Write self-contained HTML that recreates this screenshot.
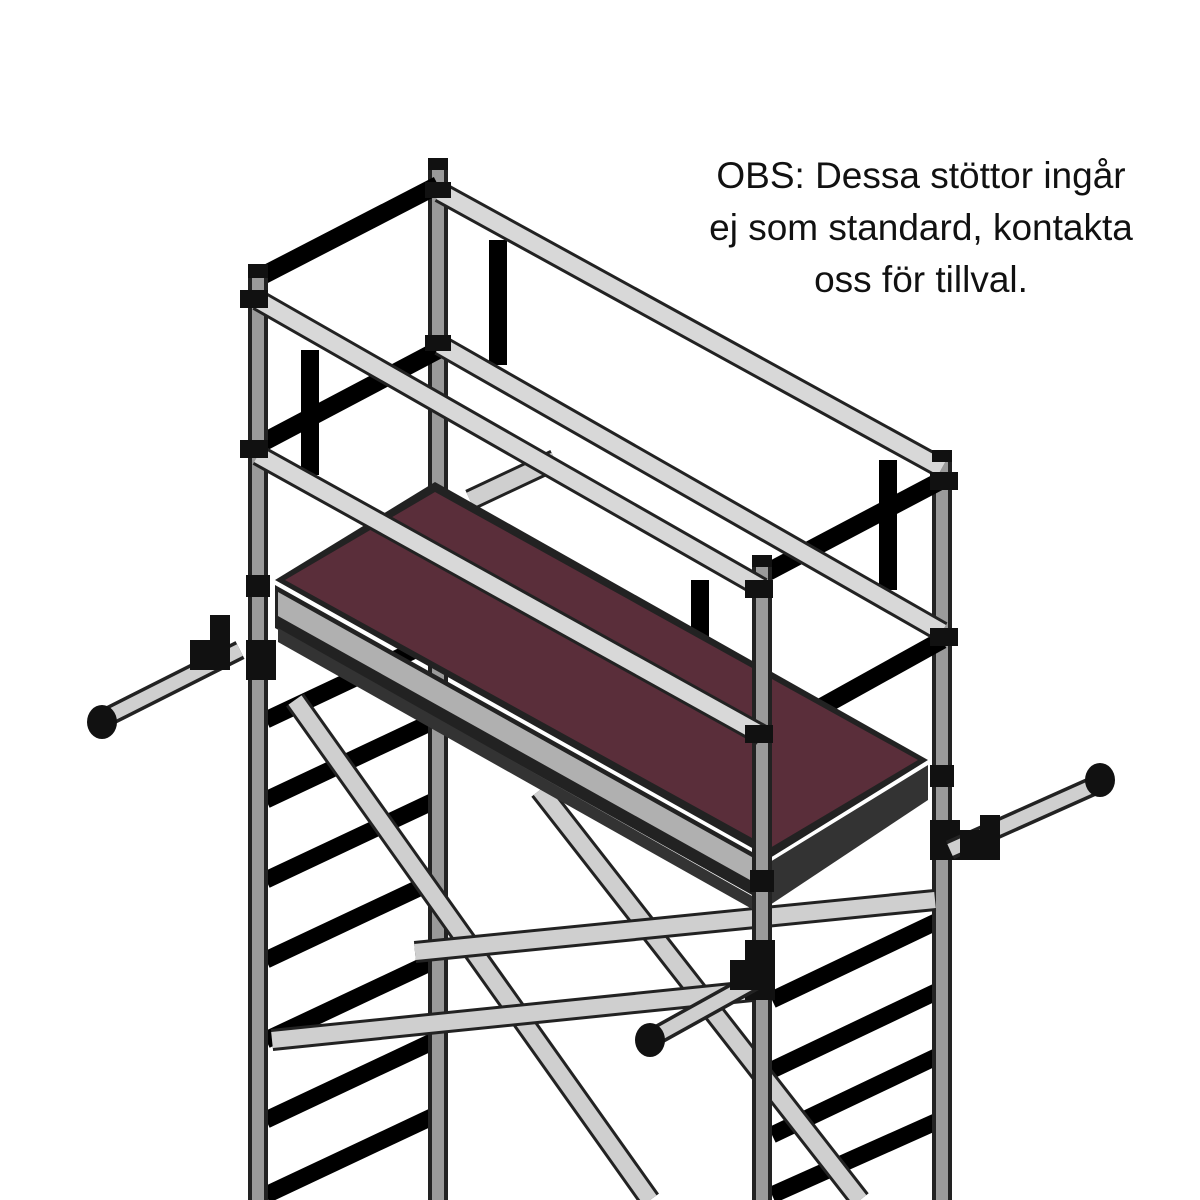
<!DOCTYPE html>
<html><head><meta charset="utf-8"><style>
html,body{margin:0;padding:0;background:#fff;width:1200px;height:1200px;overflow:hidden}
.t{position:absolute;left:680px;top:150px;width:482px;text-align:center;font-family:"Liberation Sans",sans-serif;font-size:37px;line-height:52px;color:#111}
</style></head><body>
<svg width="1200" height="1200" style="position:absolute;left:0;top:0">
<g stroke-linecap="butt">
<g stroke="#000" stroke-width="17">
<line x1="266" y1="720" x2="436" y2="640"/>
<line x1="266" y1="800" x2="436" y2="720"/>
<line x1="266" y1="880" x2="436" y2="800"/>
<line x1="266" y1="960" x2="436" y2="880"/>
<line x1="266" y1="1040" x2="436" y2="960"/>
<line x1="266" y1="1120" x2="436" y2="1040"/>
<line x1="266" y1="1195" x2="436" y2="1115"/>
<line x1="772" y1="1000" x2="940" y2="920"/>
<line x1="772" y1="1070" x2="940" y2="990"/>
<line x1="772" y1="1135" x2="940" y2="1055"/>
<line x1="772" y1="1195" x2="940" y2="1120"/>
</g>
<g stroke="#222" stroke-width="20"><line x1="438" y1="165" x2="438" y2="1200"/><line x1="942" y1="455" x2="942" y2="1200"/></g>
<g stroke="#9a9a9a" stroke-width="12"><line x1="438" y1="165" x2="438" y2="1200"/><line x1="942" y1="455" x2="942" y2="1200"/></g>
<g stroke="#000" stroke-width="18">
<line x1="258" y1="278" x2="438" y2="185"/>
<line x1="258" y1="445" x2="438" y2="350"/>
<line x1="762" y1="575" x2="942" y2="480"/>
<line x1="762" y1="740" x2="942" y2="640"/>
<line x1="498" y1="240" x2="498" y2="365"/>
<line x1="310" y1="350" x2="310" y2="475"/>
<line x1="888" y1="460" x2="888" y2="590"/>
<line x1="700" y1="580" x2="700" y2="705"/>
</g>
<g stroke="#222" stroke-width="22"><line x1="295" y1="700" x2="650" y2="1200"/><line x1="540" y1="790" x2="860" y2="1200"/><line x1="470" y1="500" x2="555" y2="460"/></g>
<g stroke="#cfcfcf" stroke-width="16"><line x1="295" y1="700" x2="650" y2="1200"/><line x1="540" y1="790" x2="860" y2="1200"/><line x1="470" y1="500" x2="555" y2="460"/></g>
<g stroke="#222" stroke-width="22"><line x1="415" y1="952" x2="935" y2="900"/><line x1="272" y1="1040" x2="762" y2="990"/></g>
<g stroke="#cfcfcf" stroke-width="16"><line x1="415" y1="952" x2="935" y2="900"/><line x1="272" y1="1040" x2="762" y2="990"/></g>
<polygon points="275,580 435,482 928,760 770,858" fill="#222"/>
<polygon points="285,580 435,492 918,760 770,848" fill="#5a2e3a"/>
<polygon points="275,585 770,862 770,905 275,628" fill="#222"/>
<polygon points="278,592 768,866 768,890 278,616" fill="#b0b0b0"/>
<polygon points="278,628 768,905 768,918 278,642" fill="#333"/>
<polygon points="770,862 928,765 928,800 770,905" fill="#333"/>
<g stroke="#222" stroke-width="20"><line x1="258" y1="270" x2="258" y2="1200"/><line x1="762" y1="560" x2="762" y2="1200"/></g>
<g stroke="#9a9a9a" stroke-width="12"><line x1="258" y1="270" x2="258" y2="1200"/><line x1="762" y1="560" x2="762" y2="1200"/></g>
<g stroke="#222" stroke-width="22">
<line x1="440" y1="192" x2="942" y2="468"/>
<line x1="440" y1="345" x2="942" y2="632"/>
<line x1="258" y1="300" x2="762" y2="588"/>
<line x1="258" y1="455" x2="762" y2="735"/>
</g>
<g stroke="#d8d8d8" stroke-width="16">
<line x1="440" y1="192" x2="942" y2="468"/>
<line x1="440" y1="345" x2="942" y2="632"/>
<line x1="258" y1="300" x2="762" y2="588"/>
<line x1="258" y1="455" x2="762" y2="735"/>
</g>
<g fill="#111">
<rect x="428" y="158" width="20" height="12"/><rect x="248" y="264" width="20" height="14"/>
<rect x="932" y="450" width="20" height="12"/><rect x="752" y="555" width="20" height="12"/>
<rect x="240" y="290" width="28" height="18"/><rect x="240" y="440" width="28" height="18"/>
<rect x="745" y="580" width="28" height="18"/><rect x="745" y="725" width="28" height="18"/>
<rect x="930" y="472" width="28" height="18"/><rect x="930" y="628" width="28" height="18"/>
<rect x="425" y="182" width="26" height="16"/><rect x="425" y="335" width="26" height="16"/>
<rect x="246" y="575" width="24" height="22"/><rect x="246" y="640" width="30" height="40"/>
<rect x="930" y="765" width="24" height="22"/><rect x="930" y="820" width="30" height="40"/>
<rect x="750" y="870" width="24" height="22"/><rect x="745" y="940" width="30" height="60"/>
</g>
<g stroke="#222" stroke-width="20"><line x1="105" y1="718" x2="240" y2="650"/><line x1="652" y1="1038" x2="760" y2="978"/><line x1="950" y1="850" x2="1100" y2="783"/></g>
<g stroke="#cfcfcf" stroke-width="13"><line x1="105" y1="718" x2="240" y2="650"/><line x1="652" y1="1038" x2="760" y2="978"/><line x1="950" y1="850" x2="1100" y2="783"/></g>
<g fill="#111">
<ellipse cx="102" cy="722" rx="15" ry="17"/><ellipse cx="650" cy="1040" rx="15" ry="17"/><ellipse cx="1100" cy="780" rx="15" ry="17"/>
<rect x="190" y="640" width="40" height="30"/><rect x="210" y="615" width="20" height="25"/>
<rect x="960" y="830" width="40" height="30"/><rect x="980" y="815" width="20" height="20"/>
<rect x="730" y="960" width="40" height="30"/>
</g>
</g>
</svg>
<div class="t">OBS: Dessa stöttor ingår<br>ej som standard, kontakta<br>oss för tillval.</div>
</body></html>
